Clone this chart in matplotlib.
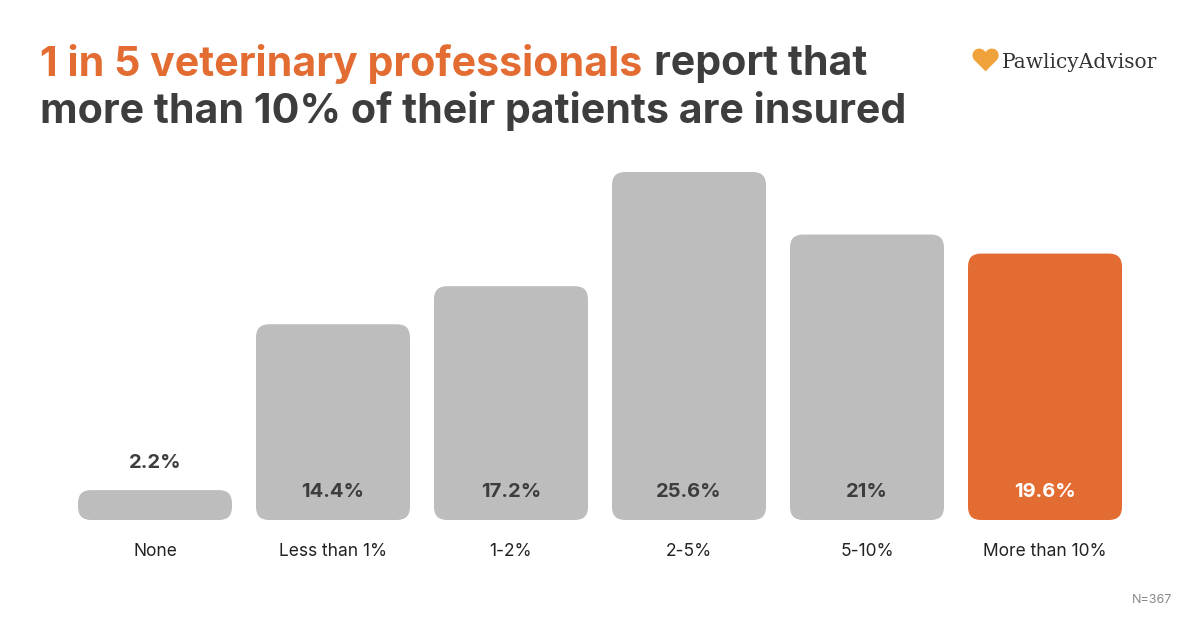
import matplotlib.pyplot as plt
from matplotlib.patches import FancyBboxPatch

# data
categories = ['None', 'Less than 1%', '1-2%', '2-5%', '5-10%', 'More than 10%']
values = [2.2, 14.4, 17.2, 25.6, 21, 19.6]
value_labels = ['2.2%', '14.4%', '17.2%', '25.6%', '21%', '19.6%']
highlight = 'More than 10%'

GREY = '#bdbdbd'
ORANGE = '#e36c33'
DARK = '#3d3d3d'
W, H = 1200, 630

fig = plt.figure(figsize=(12, 6.3), dpi=100)
fig.patch.set_facecolor('white')
plt.rcParams['font.family'] = 'Inter'

# bar area: x 66..1134 px, y 172..520 px
ax = fig.add_axes([66 / W, 1 - 520 / H, 1068 / W, 348 / H])
ax.set_xlim(-0.5, 5.5)
ax.set_ylim(0, 25.6)
ax.axis('off')

px_x = 1068 / 6          # px per x unit
px_y = 348 / 25.6        # px per y unit
bw = 154 / px_x
r = 13 / px_x
for i, (c, v) in enumerate(zip(categories, values)):
    col = ORANGE if c == highlight else GREY
    h = max(v, 2.2)
    p = FancyBboxPatch((i - bw / 2, 0), bw, h,
                       boxstyle=f'round,pad=0,rounding_size={r}',
                       mutation_aspect=px_x / px_y,
                       fc=col, ec='none', clip_on=False)
    ax.add_patch(p)
    if v < 5:
        ax.text(i, v + 27 / px_y, value_labels[i], ha='center', va='center',
                fontsize=14.5, fontweight='bold', color=DARK)
    else:
        ax.text(i, 28 / px_y, value_labels[i], ha='center', va='center',
                fontsize=14.5, fontweight='bold',
                color='white' if c == highlight else DARK)
    ax.text(i, -32 / px_y, c, ha='center', va='center', fontsize=12.5, color='#222222')

# title
t1 = fig.text(40 / W, 1 - 64 / H, '1 in 5 veterinary professionals', fontsize=29.6,
              fontweight='bold', color=ORANGE, va='center', ha='left')
fig.canvas.draw()
bb = t1.get_window_extent()
fig.text(bb.x1 / W + 12 / W, 1 - 64 / H, 'report that', fontsize=29.6,
         fontweight='bold', color=DARK, va='center', ha='left')
fig.text(40 / W, 1 - 111 / H, 'more than 10% of their patients are insured', fontsize=29.6,
         fontweight='bold', color=DARK, va='center', ha='left')

# logo
fig.text(985 / W, 1 - 63 / H, '\u2665', fontsize=22, color='#f0a33a', va='center', ha='center')
fig.text(1002 / W, 1 - 63 / H, 'PawlicyAdvisor', fontsize=14.5, color='#333333',
         va='center', ha='left', family='DejaVu Serif')

fig.text(1172 / W, 1 - 600 / H, 'N=367', fontsize=9, color='#888888', ha='right', va='center')

fig.savefig('out.png', dpi=100)
